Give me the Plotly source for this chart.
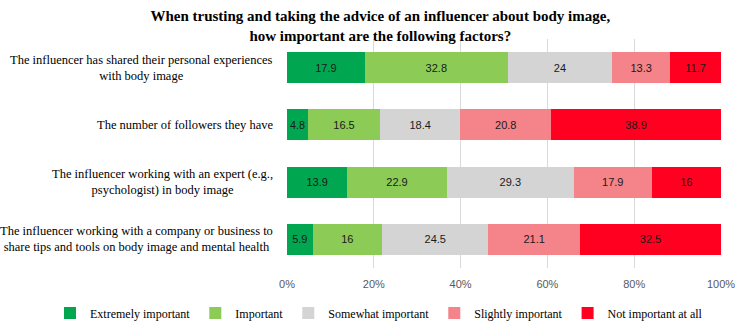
import plotly.graph_objects as go

categories = [
    "The influencer has shared their personal experiences<br>with body image",
    "The number of followers they have",
    "The influencer working with an expert (e.g.,<br>psychologist) in body image",
    "The influencer working with a company or business to<br>share tips and tools on body image and mental health",
]
series_names = ["Extremely important", "Important", "Somewhat important",
                "Slightly important", "Not important at all"]
extremely = [17.9, 4.8, 13.9, 5.9]
important = [32.8, 16.5, 22.9, 16]
somewhat = [24, 18.4, 29.3, 24.5]
slightly = [13.3, 20.8, 17.9, 21.1]
not_important = [11.7, 38.9, 16, 32.5]
tick_vals = [0, 20, 40, 60, 80, 100]
tick_text = ["0%", "20%", "40%", "60%", "80%", "100%"]

colors = ["#00A650", "#8CCB55", "#D4D4D4", "#F4848A", "#FF0020"]
series = [extremely, important, somewhat, slightly, not_important]

fig = go.Figure()
for name, vals, col in zip(series_names, series, colors):
    fig.add_trace(go.Bar(
        y=categories, x=vals, name=name, orientation="h",
        marker=dict(color=col, line=dict(width=0)),
        text=[f"{v:g}" for v in vals], texttemplate="%{text}",
        textposition="inside", insidetextanchor="middle", textangle=0,
        textfont=dict(family="Liberation Sans, Arial", size=11, color="#1a1a1a"),
    ))

for c in categories:
    fig.add_annotation(
        x=0, y=c, xref="paper", yref="y", xanchor="right", yanchor="middle",
        xshift=-12, text=c, align="center", showarrow=False,
        font=dict(family="Liberation Serif, Times New Roman", size=12.5, color="#000"),
    )

fig.update_layout(
    template="none",
    width=737, height=322,
    barmode="stack", barnorm="percent", bargap=0.46,
    margin=dict(l=287, r=16, t=38.5, b=54, autoexpand=False),
    paper_bgcolor="white", plot_bgcolor="white",
    title=dict(
        text="<b>When trusting and taking the advice of an influencer about body image,<br>how important are the following factors?</b>",
        x=0.516, xanchor="center", xref="container",
        y=1 - 21 / 322, yanchor="middle", yref="container",
        font=dict(family="Liberation Serif, Times New Roman", size=15, color="#000"),
    ),
    xaxis=dict(
        range=[0, 100], tickvals=tick_vals, ticktext=tick_text,
        showgrid=True, gridcolor="#D9D9D9", gridwidth=1,
        zeroline=False, showline=False, ticks="", ticklabelstandoff=8,
        tickfont=dict(family="Liberation Sans, Arial", size=11, color="#595959"),
    ),
    yaxis=dict(
        categoryorder="array", categoryarray=categories, autorange="reversed",
        showticklabels=False, showgrid=False, zeroline=False, showline=False,
    ),
    legend=dict(
        orientation="h", xref="paper", yref="paper",
        x=(50 - 287) / 434, xanchor="left", y=-(313 - 268) / 229.5, yanchor="middle",
        font=dict(family="Liberation Serif, Times New Roman", size=12, color="#000"),
        traceorder="normal", itemwidth=30, bgcolor="rgba(0,0,0,0)",
    ),
    showlegend=True,
)

fig.write_html("out.html")
